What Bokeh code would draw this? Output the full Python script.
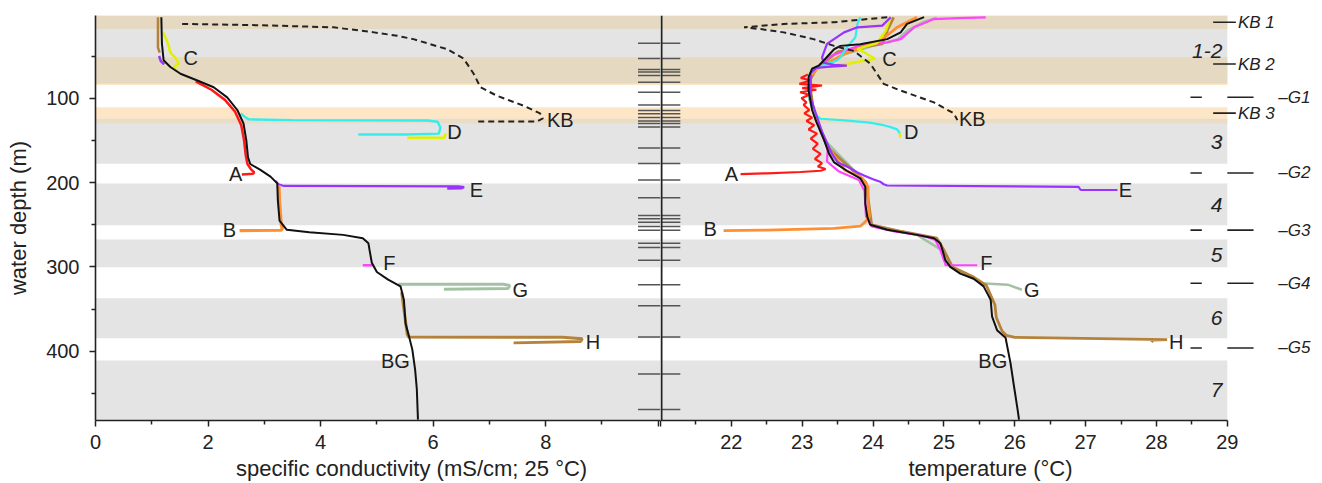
from bokeh.plotting import figure
from bokeh.layouts import row
from bokeh.models import FixedTicker
from bokeh.core.properties import value
from bokeh.embed import file_html
from bokeh.resources import INLINE

FONT = "Liberation Sans"
TXT = "#222222"

# ---------------- data ----------------
# background bands (depth top, depth bottom, colour)
band_top = [2, 124, 201, 267.4, 337, 411, 2, 51.5, 83, 110.6, 124.4]
band_bottom = [83, 177.6, 250.5, 300.5, 384.5, 482, 18, 83, 84.5, 124.4, 130]
band_color = ["#e4e4e4", "#e4e4e4", "#e4e4e4", "#e4e4e4", "#e4e4e4", "#e4e4e4",
              "#e6d9c1", "#e6d9c1", "#fde6c6", "#fde6c6", "#ebdcc6"]

# sampling depths (centre ticks)
sample_depths = [35, 53, 66, 69, 73, 81, 93, 108, 114.5, 118.5, 123, 127, 130, 134,
                 159, 177.5, 197, 218, 239, 243, 247, 252, 256.5, 272, 277, 292,
                 321, 346, 383, 427, 469]

# right-hand annotations
kb_names = ["KB 1", "KB 2", "KB 3"]
kb_depths = [10, 59.5, 117.7]
g_names = ["\u2013G1", "\u2013G2", "\u2013G3", "\u2013G4", "\u2013G5"]
g_depths = [98.8, 188.6, 256.4, 319.4, 396]
layer_names = ["1-2", "3", "4", "5", "6", "7"]
layer_depths = [43.6, 152, 226.8, 286, 360.8, 445.5]

# conductivity (mS/cm) profiles
cond_bg_d = [4, 35, 55, 63, 71, 79, 87, 99, 114, 130, 150, 170, 178, 185, 193, 201, 221, 245,
             256, 259, 262, 266, 272, 280, 295, 306, 315, 323, 339, 367, 382, 398, 422, 445, 481]
cond_bg = [1.17, 1.18, 1.21, 1.33, 1.51, 1.81, 2.10, 2.34, 2.52, 2.63, 2.68, 2.71, 2.75, 2.93,
           3.11, 3.23, 3.24, 3.27, 3.40, 3.8, 4.4, 4.75, 4.85, 4.87, 4.91, 5.0, 5.2, 5.42, 5.48,
           5.51, 5.57, 5.63, 5.68, 5.71, 5.73]
kb_cond_d = [12, 13.5, 16, 22, 26, 30, 42, 53, 71, 87, 97, 109, 118, 124, 127.5, 127.5]
kb_cond = [1.54, 2.9, 4.23, 4.95, 5.36, 5.65, 6.25, 6.54, 6.72, 6.84, 7.13, 7.61, 7.9, 7.95, 7.85, 6.75]

condA_d = [80, 90, 102, 116, 132, 150, 168, 178, 184, 188, 189.5, 190.5]
condA = [1.78, 2.06, 2.3, 2.48, 2.59, 2.64, 2.67, 2.7, 2.76, 2.82, 2.8, 2.6]
condB_d = [203, 222, 240, 250, 254, 256.5, 257]
condB = [3.26, 3.27, 3.29, 3.3, 3.32, 3.3, 2.56]
condC_d = [22, 32, 38, 46, 52, 59, 63, 68]
condC = [1.2, 1.27, 1.3, 1.33, 1.42, 1.48, 1.39, 1.45]
condD_d = [118, 122, 125, 126, 126.5, 128, 135, 142, 143, 143]
condD = [2.58, 2.65, 2.72, 3.5, 5.9, 6.08, 6.13, 6.1, 5.5, 4.67]
condDy_d = [142, 147, 147]
condDy = [6.22, 6.2, 5.54]
condE_d = [198, 202, 204, 204.5, 205.5, 207, 207.3]
condE = [3.2, 3.25, 3.35, 6.45, 6.55, 6.5, 6.25]
condE2_d = [50, 56, 60]
condE2 = [1.13, 1.16, 1.22]
condF_d = [298, 298]
condF = [4.75, 4.93]
condG_d = [320.5, 320.5, 322, 325.5, 326.5]
condG = [5.38, 7.25, 7.36, 7.33, 6.19]
condH_d = [330, 360, 380, 383, 383.3, 385, 388.5, 390]
condH = [5.44, 5.5, 5.54, 5.56, 8.3, 8.65, 8.62, 7.43]
condH2_d = [4, 40, 46]
condH2 = [1.11, 1.11, 1.14]

# temperature (deg C) profiles
temp_bg_d = [4, 12, 22, 30, 36, 38, 42, 53, 61, 65, 75, 91, 114, 128, 150, 166, 176, 186, 195,
             205, 225, 241, 250, 256, 262, 266, 272, 280, 292, 300, 308, 314, 323, 339, 359, 375,
             384, 414, 442, 469, 481]
temp_bg = [24.72, 24.48, 24.39, 24.2, 23.82, 23.54, 23.45, 23.33, 23.24, 23.14, 23.09, 23.09,
           23.14, 23.2, 23.31, 23.38, 23.45, 23.63, 23.82, 23.89, 23.89, 23.92, 23.96, 24.2,
           24.62, 24.86, 24.95, 24.98, 25.02, 25.09, 25.23, 25.42, 25.56, 25.66, 25.68, 25.75,
           25.87, 25.94, 25.99, 26.04, 26.06]
kb_temp_d = [4, 10, 12, 16, 18, 22, 30, 38, 44, 59, 83, 91, 105, 118, 126]
kb_temp = [24.2, 23.45, 22.74, 22.18, 22.4, 22.74, 23.16, 23.45, 23.73, 23.96, 24.15, 24.39,
           24.86, 25.14, 25.19]

tempA_d = [72, 76, 79, 83, 85, 88, 90, 93, 96, 100, 105, 108, 114, 118, 123, 127, 132, 137,
           142, 148, 154, 160, 166, 172, 177, 181, 184, 186, 187.5, 189, 190]
tempA = [23.08, 22.98, 23.12, 22.96, 23.28, 23.0, 23.2, 22.97, 23.1, 22.99, 23.06, 23.02,
         23.1, 23.03, 23.14, 23.06, 23.17, 23.09, 23.21, 23.12, 23.22, 23.15, 23.26, 23.18,
         23.28, 23.22, 23.33, 23.26, 22.98, 22.5, 22.13]
tempB_d = [4, 16, 32, 47.5, 59, 66, 75, 100, 130, 160, 185, 195, 205, 225, 240, 246.6, 251.7,
           254.4, 256.4, 257]
tempB = [24.62, 24.34, 24.1, 23.59, 23.35, 23.2, 23.1, 23.1, 23.22, 23.38, 23.6, 23.85, 23.93,
         23.93, 23.95, 23.89, 23.82, 23.45, 22.5, 21.89]
tempC_d = [4, 20, 35, 41.6, 47, 53.4, 56, 59.4, 61.3, 66, 75]
tempC = [24.25, 24.18, 24.05, 23.78, 23.9, 24.03, 23.85, 23.63, 23.35, 23.15, 23.1]
tempD_d = [4, 12, 28, 39.7, 51.5, 55.4, 64, 72, 100, 118, 122, 124.4, 126.4, 129, 132, 134.3,
           137, 142]
tempD = [23.82, 23.78, 23.75, 23.63, 23.54, 23.49, 23.2, 23.1, 23.1, 23.16, 23.22, 23.26, 23.6,
         23.95, 24.15, 24.25, 24.34, 24.38]
tempDy_d = [141, 146.5]
tempDy = [24.38, 24.38]
tempE_d = [4, 14, 16, 22, 35.7, 51.5, 58, 60.5, 61.3, 62.5, 64, 70, 100, 140, 166, 176, 183,
           188, 192, 196, 199, 202, 203.5, 205, 208.8, 208.8]
tempE = [24.25, 24.13, 23.78, 23.59, 23.35, 23.28, 23.3, 23.45, 23.63, 23.4, 23.2, 23.12, 23.12,
         23.28, 23.42, 23.5, 23.68, 23.78, 23.88, 24.0, 24.1, 24.15, 24.2, 26.9, 26.93, 27.45]
tempF_d = [4.2, 5, 6.2, 16, 30, 34, 38, 50, 64, 75, 100, 130, 160, 175, 187, 197, 210, 240, 252,
           258, 263, 268, 280, 292, 296, 298, 298]
tempF = [25.59, 25.2, 24.86, 24.58, 24.39, 24.2, 23.8, 23.4, 23.2, 23.12, 23.12, 23.22, 23.36,
         23.35, 23.52, 23.8, 23.88, 23.9, 23.98, 24.3, 24.7, 24.88, 24.95, 25.0, 25.02, 25.02,
         25.47]
tempG_d = [4.5, 10, 20, 30, 38, 48, 60, 70, 100, 150, 200, 250, 262, 280, 300, 312, 319.4, 321, 327]
tempG = [24.9, 24.7, 24.48, 24.35, 24.0, 23.6, 23.3, 23.12, 23.1, 23.32, 23.9, 23.97, 24.62,
         24.97, 25.09, 25.38, 25.52, 25.9, 26.1]
tempH_d = [4.2, 20, 35.7, 39.7, 45, 55, 65, 80, 120, 160, 200, 250, 258, 266, 280, 300, 312, 322,
           345, 360, 376, 381, 383.5, 386.2, 386.8, 389]
tempH = [24.29, 24.2, 24.13, 23.82, 23.5, 23.35, 23.2, 23.1, 23.17, 23.38, 23.9, 23.98, 24.4,
         24.9, 25.0, 25.12, 25.42, 25.6, 25.72, 25.74, 25.82, 25.88, 26.0, 28.15, 27.95, 27.93]

profile_labels = ["C", "KB", "D", "A", "E", "B", "F", "G", "H", "BG"]
cond_label_x = [1.69, 8.26, 6.38, 2.49, 6.77, 2.38, 5.22, 7.55, 8.84, 5.33]
cond_label_y = [51.9, 126.4, 140, 189.5, 209, 256.5, 295.8, 327.3, 388.4, 412]
temp_label_x = [24.23, 25.4, 24.54, 22.0, 27.56, 21.7, 25.6, 26.24, 28.28, 25.69]
temp_label_y = [53.5, 124.4, 140, 189.4, 209, 255.6, 295.8, 327.3, 388.4, 412]

RED, ORANGE, YELLOW, CYAN = "#ff1a1a", "#ff8f33", "#e0f000", "#33eeee"
PURPLE, MAGENTA, SAGE, BROWN = "#9933ff", "#ff44ff", "#a3c2a3", "#b5823c"

# ---------------- figures ----------------
H = 483
p1 = figure(width=660, height=H, x_range=(0, 10.04), y_range=(482, 2),
            output_backend="svg", toolbar_location=None,
            min_border_left=95, min_border_right=0, min_border_top=15, min_border_bottom=62)
p2 = figure(width=660, height=H, x_range=(21, 30.315), y_range=p1.y_range,
            output_backend="svg", toolbar_location=None, y_axis_location=None,
            min_border_left=0, min_border_right=0, min_border_top=15, min_border_bottom=62)

for p in (p1, p2):
    p.grid.visible = False
    p.outline_line_color = None
    p.background_fill_color = "white"
    p.border_fill_color = "white"

def style_axis(ax):
    ax.axis_line_color = TXT
    ax.axis_line_width = 1.6
    ax.major_tick_line_color = TXT
    ax.minor_tick_line_color = TXT
    ax.major_tick_line_width = 1.5
    ax.minor_tick_line_width = 1.5
    ax.major_tick_out = 6
    ax.major_tick_in = 0
    ax.minor_tick_out = 4
    ax.minor_tick_in = 0
    ax.major_label_text_font = FONT
    ax.major_label_text_font_size = "20px"
    ax.major_label_text_color = TXT
    ax.axis_label_text_font = FONT
    ax.axis_label_text_font_size = "22px"
    ax.axis_label_text_font_style = "normal"
    ax.axis_label_text_color = TXT

for ax in (p1.xaxis[0], p1.yaxis[0], p2.xaxis[0]):
    style_axis(ax)

p1.xaxis.ticker = FixedTicker(ticks=[0, 2, 4, 6, 8, 10], minor_ticks=[1, 3, 5, 7, 9])
p1.xaxis.major_label_overrides = {10: ""}
p1.xaxis.major_label_standoff = 8
p1.xaxis.axis_label = "\u00a0" * 11 + "specific conductivity (mS/cm; 25 \u00b0C)"
p1.xaxis.axis_label_standoff = 4
p1.yaxis.ticker = FixedTicker(ticks=[100, 200, 300, 400], minor_ticks=[50, 150, 250, 350, 450])
p1.yaxis.major_label_standoff = 10
p1.yaxis.axis_label = "water depth (m)"
p1.yaxis.axis_label_standoff = 12
p2.xaxis.ticker = FixedTicker(ticks=list(range(21, 30)),
                              minor_ticks=[21.5, 22.5, 23.5, 24.5, 25.5, 26.5, 27.5, 28.5])
p2.xaxis.major_label_overrides = {21: ""}
p2.xaxis.major_label_standoff = 8
p2.xaxis.bounds = (21, 29)
p2.xaxis.axis_label = "temperature (\u00b0C)"
p2.xaxis.axis_label_standoff = 4

# bands
p1.quad(left=0, right=10.04, top=band_top, bottom=band_bottom, fill_color=band_color,
        line_color=None)
p2.quad(left=21, right=29, top=band_top, bottom=band_bottom, fill_color=band_color,
        line_color=None)

# sample ticks in the middle
p1.segment(x0=9.64, x1=10.04, y0=sample_depths, y1=sample_depths, line_color="#555555",
           line_width=1.5)
p2.segment(x0=21, x1=21.28, y0=sample_depths, y1=sample_depths, line_color="#555555",
           line_width=1.5)
p2.segment(x0=[21.014], x1=[21.014], y0=[2], y1=[482], line_color=TXT, line_width=2)

# conductivity panel
cond_traces = [
    (condH2, condH2_d, BROWN, 2.5), (condE2, condE2_d, PURPLE, 2.5),
    (condC, condC_d, YELLOW, 2.5), (condA, condA_d, RED, 2.5),
    (condD, condD_d, CYAN, 2.5), (condDy, condDy_d, YELLOW, 2.5),
    (condE, condE_d, PURPLE, 2.2), (condB, condB_d, ORANGE, 3.2),
    (condF, condF_d, MAGENTA, 2.5), (condG, condG_d, SAGE, 3), (condH, condH_d, BROWN, 3),
]
for xs, ys, col, w in cond_traces:
    p1.line(xs, ys, line_color=col, line_width=w)
p1.line(cond_bg, cond_bg_d, line_color="#111111", line_width=2)
p1.line(kb_cond, kb_cond_d, line_color=TXT, line_width=2, line_dash="6 4")

# temperature panel
temp_traces = [
    (tempG, tempG_d, SAGE, 2.5), (tempH, tempH_d, BROWN, 2.8), (tempF, tempF_d, MAGENTA, 2.2),
    (tempB, tempB_d, ORANGE, 2.8), (tempC, tempC_d, YELLOW, 2.5), (tempD, tempD_d, CYAN, 2.2),
    (tempDy, tempDy_d, YELLOW, 2.5), (tempA, tempA_d, RED, 2.2), (tempE, tempE_d, PURPLE, 2.2),
]
for xs, ys, col, w in temp_traces:
    p2.line(xs, ys, line_color=col, line_width=w)
p2.line(temp_bg, temp_bg_d, line_color="#111111", line_width=2)
p2.line(kb_temp, kb_temp_d, line_color=TXT, line_width=2, line_dash="6 4")

# letter labels
p1.text(x=cond_label_x, y=cond_label_y, text=profile_labels, text_font=value(FONT),
        text_font_size="20px", text_align="center", text_baseline="middle", text_color=TXT)
p2.text(x=temp_label_x, y=temp_label_y, text=profile_labels, text_font=value(FONT),
        text_font_size="20px", text_align="center", text_baseline="middle", text_color=TXT)

# right-hand layer annotations
p2.segment(x0=28.8, x1=29.12, y0=kb_depths, y1=kb_depths, line_color=TXT, line_width=1.6)
p2.text(x=29.15, y=kb_depths, text=kb_names, text_font=value(FONT), text_font_style="italic",
        text_font_size="17px", text_align="left", text_baseline="middle", text_color=TXT)
p2.segment(x0=28.48, x1=28.64, y0=g_depths, y1=g_depths, line_color=TXT, line_width=1.6)
p2.segment(x0=29.0, x1=29.37, y0=g_depths, y1=g_depths, line_color=TXT, line_width=1.6)
p2.text(x=29.72, y=g_depths, text=g_names, text_font=value(FONT), text_font_style="italic",
        text_font_size="17px", text_align="left", text_baseline="middle", text_color=TXT)
p2.text(x=28.93, y=layer_depths, text=layer_names, text_font=value(FONT),
        text_font_style="italic", text_font_size="21px", text_align="right",
        text_baseline="middle", text_color=TXT)

layout = row(p1, p2)
open("out.html", "w").write(file_html(layout, INLINE))
